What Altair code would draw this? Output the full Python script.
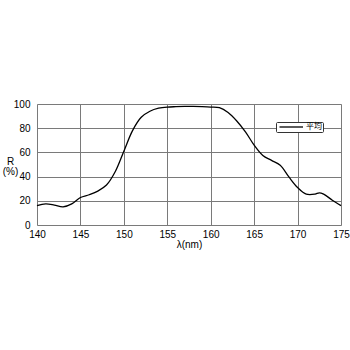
import altair as alt
import pandas as pd

wavelength = [140, 141, 142, 143, 144, 145, 146, 147, 148, 149, 150, 151, 152, 153, 154, 155,
              156, 157, 158, 159, 160, 161, 162, 163, 164, 165, 166, 167, 168, 169, 170,
              171, 172, 172.5, 173, 174, 175]
reflectance = [16, 17.5, 16.5, 15, 17.5, 22.7, 25, 28, 33, 44, 61, 78, 89, 94, 96.5, 97.5,
               97.8, 98, 98, 97.8, 97.5, 97, 93, 86, 77, 66, 57.5, 53.4, 49.3, 39.7, 31,
               25.5, 25.5, 26.6, 25.5, 20.5, 16]
series = ["平均"] * len(wavelength)

df = pd.DataFrame({"x": wavelength, "y": reflectance, "s": series})

font = "Liberation Sans"

chart = alt.Chart(df).mark_line(interpolate="catmull-rom", strokeWidth=1.3).encode(
    x=alt.X("x:Q", scale=alt.Scale(domain=[140, 175], nice=False, zero=False),
            axis=alt.Axis(values=[140, 145, 150, 155, 160, 165, 170, 175], title="λ(nm)",
                          titleFontWeight="normal", titleFontSize=10, titlePadding=0,
                          labelFontSize=10, labelPadding=4, ticks=False, domain=False,
                          labelFlush=False, labelOverlap=False,
                          gridColor="#7a7a7a", labelColor="black", titleColor="black",
                          labelFont=font, titleFont=font)),
    y=alt.Y("y:Q", scale=alt.Scale(domain=[0, 100], nice=False),
            axis=alt.Axis(values=[0, 20, 40, 60, 80, 100], title=["R", "(%)"],
                          titleAngle=0, titleX=-27, titleY=57, titleAlign="center",
                          titleBaseline="middle", titleFontWeight="normal", titleFontSize=10,
                          titleLineHeight=10,
                          labelFontSize=10, labelPadding=7, ticks=False, domain=False,
                          gridColor="#7a7a7a", labelColor="black", titleColor="black",
                          labelFont=font, titleFont=font)),
    color=alt.Color("s:N", scale=alt.Scale(range=["black"]),
                    legend=alt.Legend(title=None, orient="none", legendX=239, legendY=18,
                                      symbolType="M-0.6,0H8.8", symbolSize=25,
                                      symbolStrokeWidth=1.3,
                                      labelFontSize=8, labelFont="Noto Sans CJK JP",
                                      strokeColor="#333", fillColor="white", padding=1,
                                      labelOffset=21, cornerRadius=1)),
).properties(
    width=304, height=121,
    autosize=alt.AutoSizeParams(type="none"),
    padding={"left": 37, "top": 104, "right": 9, "bottom": 125},
).configure_view(stroke="black", strokeWidth=1.2).configure(background="white")

chart.save("out.html", embed_options={"renderer": "svg", "actions": False})
